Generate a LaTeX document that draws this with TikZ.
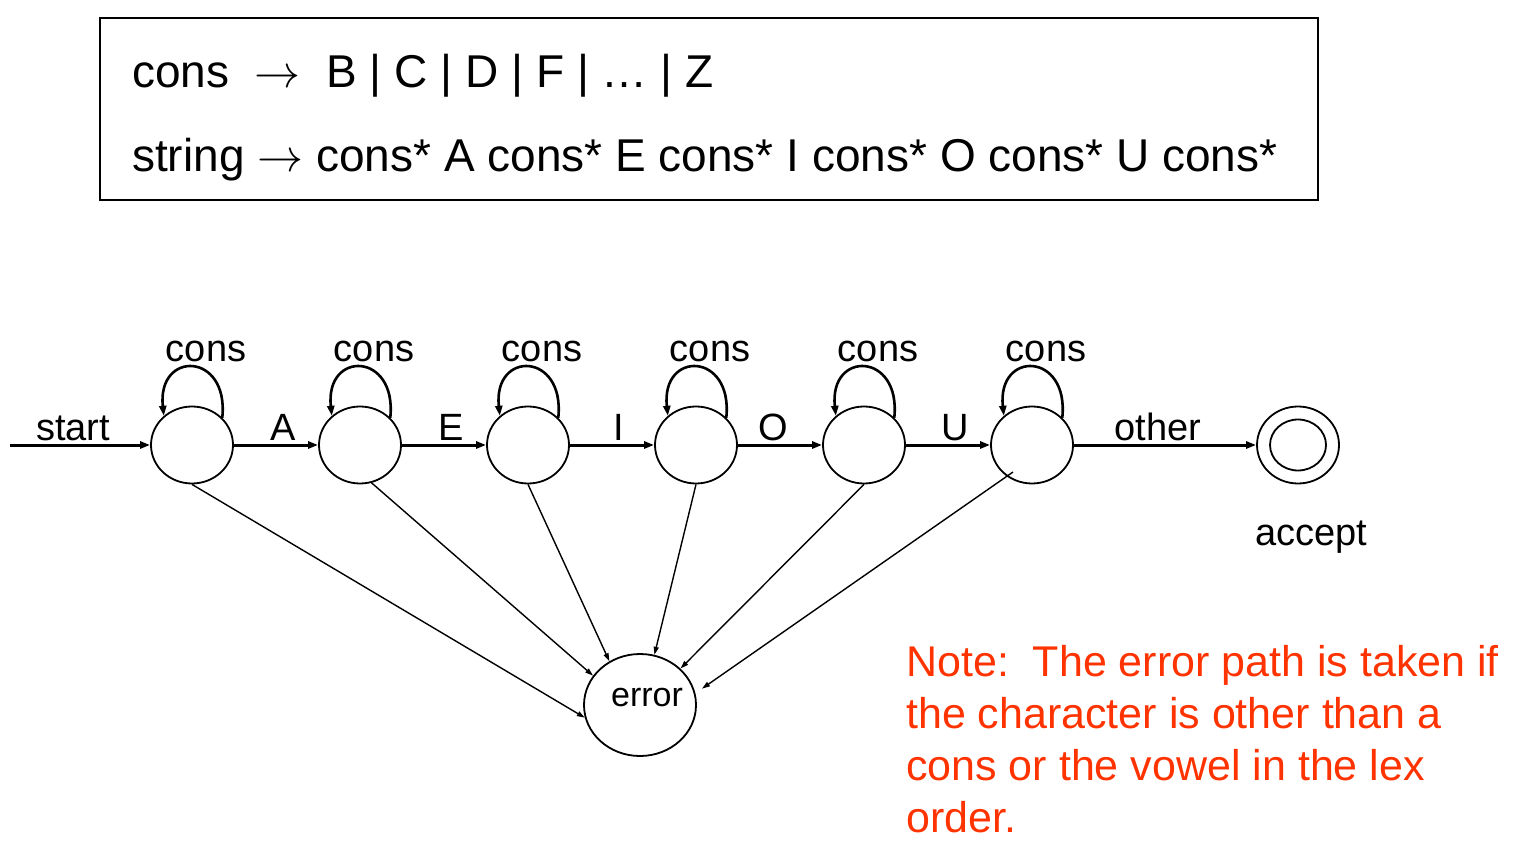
\documentclass[tikz,border=0pt]{standalone}
\usepackage{fix-cm}
\usepackage{fontspec}
\setmainfont{Liberation Sans}
\usetikzlibrary{arrows.meta,shapes.geometric}
\definecolor{notered}{HTML}{FF3300}
\begin{document}
\begin{tikzpicture}[x=1pt,y=1pt,
  state/.style={draw,ellipse,line width=1.8pt,minimum width=82pt,minimum height=77pt,inner sep=0pt},
  thick arrow/.style={line width=3pt,-{Triangle[length=10pt,width=7pt]}},
  loopline/.style={line width=2.6pt,-{Triangle[length=10pt,width=7pt]}},
  errline/.style={line width=1.4pt,-{Triangle[length=8pt,width=5pt]}},
  lbl/.style={font=\fontsize{38}{44}\selectfont,inner sep=0pt,anchor=base},
  edgelbl/.style={lbl,yshift=4pt},
  toptext/.style={font=\fontsize{46}{54}\selectfont,inner sep=0pt,anchor=base west},
  notetext/.style={font=\fontsize{43}{52}\selectfont,text=notered,inner sep=0pt,anchor=base west}
]
\useasboundingbox (0,0) rectangle (1514,855);
% grammar box
\node[draw,line width=2pt,minimum width=1218pt,minimum height=182pt,inner sep=0pt] (box) at (709,746) {};
\node[toptext] (g1) at (132,767) {cons~~$\rightarrow$~~B | C | D | F | \dots\ | Z};
\node[toptext] (g2) at (132,683) {string $\rightarrow$ cons* A cons* E cons* I cons* O cons* U cons*};
% states
\foreach \i/\x in {1/192,2/360,3/528,4/696,5/864,6/1032}
  \node[state] (s\i) at (\x,410) {};
\node[state] (acc) at (1298,410) {};
\node[draw,ellipse,line width=1.8pt,minimum width=56pt,minimum height=51pt,inner sep=0pt] (accin) at (1298,410) {};
\node[draw,ellipse,line width=1.8pt,minimum width=112pt,minimum height=102pt,inner sep=0pt,
  label={[lbl,font=\fontsize{34}{40}\selectfont,anchor=center,xshift=7pt,yshift=7pt]center:error}] (err) at (640,150) {};
% self loops
\foreach \i in {1,...,6}
  \draw[loopline] (s\i.42) .. controls +(7,66) and +(-7,66) .. (s\i.134)
    node[lbl,pos=0.5,xshift=13pt,yshift=6pt] {cons};
% main transitions
\coordinate (st) at (10,410);
\draw[thick arrow] (st) -- node[edgelbl,pos=0.45] {start} (s1);
\draw[thick arrow] (s1) -- node[edgelbl,pos=0.58] {A} (s2);
\draw[thick arrow] (s2) -- node[edgelbl,pos=0.58] {E} (s3);
\draw[thick arrow] (s3) -- node[edgelbl,pos=0.58] {I} (s4);
\draw[thick arrow] (s4) -- node[edgelbl,pos=0.42] {O} (s5);
\draw[thick arrow] (s5) -- node[edgelbl,pos=0.58] {U} (s6);
\draw[thick arrow] (s6) -- node[edgelbl,pos=0.46] {other} (acc);
\node[lbl] (acclbl) at (1311,310) {accept};
% error transitions
\coordinate (e6) at (1013,383);
\draw[errline] (s1.south) -- (err.193);
\draw[errline] (s2.-73) -- (err.148);
\draw[errline] (s3.south) -- (err.125);
\draw[errline] (s4.south) -- (err.74);
\draw[errline] (s5.south) -- (err.42);
\draw[errline,shorten >=8pt] (e6) -- (err.12);
% note
\node[notetext] (n1) at (906,179) {Note:\ \ The error path is taken if};
\node[notetext] (n2) at (906,127) {the character is other than a};
\node[notetext] (n3) at (906,75) {cons or the vowel in the lex};
\node[notetext] (n4) at (906,23) {order.};
\end{tikzpicture}
\end{document}
